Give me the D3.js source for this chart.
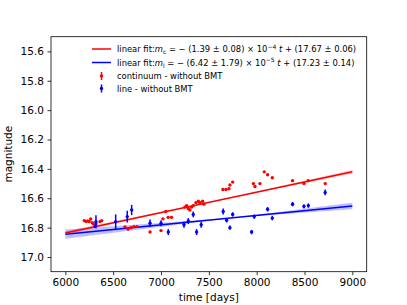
<!DOCTYPE html>
<html>
<head>
<meta charset="utf-8">
<script src="https://cdn.jsdelivr.net/npm/d3@7"></script>
<style>
  body { margin: 0; background: #fff; }
  text { font-family: "DejaVu Sans", sans-serif; fill: #000; }
</style>
</head>
<body>
<div id="chart"></div>
<script>
// continuum - without BMT: [time, magnitude, error]
var contData = [
  [6198, 16.752, 0.006], [6216, 16.759, 0.006], [6233, 16.754, 0.006], [6250, 16.759, 0.006],
  [6265, 16.741, 0.006], [6282, 16.766, 0.006], [6292, 16.773, 0.006], [6320, 16.775, 0.006],
  [6362, 16.759, 0.006], [6380, 16.752, 0.006],
  [6623, 16.795, 0.006], [6655, 16.81, 0.006], [6686, 16.80, 0.006], [6717, 16.793, 0.006], [6749, 16.793, 0.006],
  [6885, 16.83, 0.006], [7000, 16.82, 0.006],
  [7020, 16.74, 0.006], [7050, 16.69, 0.006], [7075, 16.73, 0.006], [7110, 16.73, 0.006],
  [7250, 16.66, 0.006], [7268, 16.65, 0.006], [7285, 16.67, 0.006], [7302, 16.68, 0.006],
  [7320, 16.66, 0.006], [7337, 16.65, 0.006], [7365, 16.63, 0.006], [7390, 16.62, 0.006],
  [7407, 16.63, 0.006], [7435, 16.62, 0.006], [7449, 16.64, 0.006],
  [7647, 16.54, 0.006], [7679, 16.54, 0.006], [7710, 16.535, 0.006], [7720, 16.51, 0.006], [7749, 16.49, 0.006],
  [7966, 16.50, 0.006], [7982, 16.52, 0.006], [8034, 16.50, 0.006],
  [8079, 16.42, 0.006], [8114, 16.44, 0.006], [8163, 16.46, 0.006],
  [8375, 16.48, 0.006], [8494, 16.50, 0.006], [8539, 16.48, 0.006], [8717, 16.50, 0.006]
];

// line - without BMT: [time, magnitude, error]
var lineData = [
  [6310, 16.79, 0.012], [6320, 16.76, 0.045], [6526, 16.76, 0.05], [6647, 16.725, 0.04],
  [6693, 16.68, 0.035], [6885, 16.77, 0.025], [7000, 16.77, 0.02], [7076, 16.83, 0.02],
  [7240, 16.78, 0.02], [7285, 16.755, 0.02], [7337, 16.71, 0.02], [7372, 16.83, 0.02],
  [7420, 16.78, 0.02], [7650, 16.69, 0.02], [7686, 16.75, 0.015], [7720, 16.80, 0.015],
  [7749, 16.71, 0.015], [7947, 16.83, 0.015], [7975, 16.725, 0.015], [8114, 16.675, 0.015],
  [8163, 16.735, 0.015], [8375, 16.64, 0.015], [8494, 16.655, 0.015], [8540, 16.65, 0.015],
  [8716, 16.56, 0.02]
];

// linear fits: slope, slope error, intercept, pivot time of the band
var contFit = {slope: -1.39e-4, slopeErr: 0.08e-4, intercept: 17.67, pivot: 7500};
var lineFit = {slope: -6.42e-5, slopeErr: 1.79e-5, intercept: 17.23, pivot: 7750};
var fitRange = [6000, 9000];

var xTicks = [6000, 6500, 7000, 7500, 8000, 8500, 9000];
var yTicks = [15.6, 15.8, 16.0, 16.2, 16.4, 16.6, 16.8, 17.0];

var W = 407, H = 305;
var margin = {top: 36.7, right: 40.3, bottom: 33.3, left: 51},
    w = W - margin.left - margin.right,
    h = H - margin.top - margin.bottom;

var x = d3.scaleLinear().domain([5850, 9150]).range([0, w]);
var y = d3.scaleLinear().domain([15.5, 17.1]).range([0, h]);

var svg = d3.select("#chart").append("svg")
    .attr("width", W)
    .attr("height", H);

var g = svg.append("g")
    .attr("transform", "translate(" + margin.left + "," + margin.top + ")");

function fitY(f, t) { return f.intercept + f.slope * t; }

function drawFit(f, color, bandColor) {
    var ts = d3.range(fitRange[0], fitRange[1] + 1, 50);
    var band = d3.area()
        .x(function(t) { return x(t); })
        .y0(function(t) { return y(fitY(f, t) - f.slopeErr * Math.abs(t - f.pivot)); })
        .y1(function(t) { return y(fitY(f, t) + f.slopeErr * Math.abs(t - f.pivot)); });
    g.append("path")
        .datum(ts)
        .attr("d", band)
        .attr("fill", bandColor)
        .attr("fill-opacity", 0.25);
    g.append("line")
        .attr("x1", x(fitRange[0])).attr("y1", y(fitY(f, fitRange[0])))
        .attr("x2", x(fitRange[1])).attr("y2", y(fitY(f, fitRange[1])))
        .attr("stroke", color)
        .attr("stroke-width", 1.5);
}

function drawPoints(data, color) {
    var pts = g.append("g").selectAll("g").data(data).enter().append("g");
    pts.append("line")
        .attr("x1", function(d) { return x(d[0]); })
        .attr("x2", function(d) { return x(d[0]); })
        .attr("y1", function(d) { return y(d[1] - d[2]); })
        .attr("y2", function(d) { return y(d[1] + d[2]); })
        .attr("stroke", color)
        .attr("stroke-width", 1.5);
    pts.append("circle")
        .attr("cx", function(d) { return x(d[0]); })
        .attr("cy", function(d) { return y(d[1]); })
        .attr("r", 1.7)
        .attr("fill", color);
}

drawFit(lineFit, "#0000ff", "#0000ff");
drawFit(contFit, "#ff0000", "#ff0000");
drawPoints(contData, "#ff0000");
drawPoints(lineData, "#0000ff");

// axes
var xAxis = d3.axisBottom(x).tickValues(xTicks).tickSize(3.5).tickPadding(3.5)
    .tickFormat(d3.format("d"));
var yAxis = d3.axisLeft(y).tickValues(yTicks).tickSize(3.5).tickPadding(3.5)
    .tickFormat(d3.format(".1f"));

var gx = g.append("g").attr("transform", "translate(0," + h + ")").call(xAxis);
var gy = g.append("g").call(yAxis);
[gx, gy].forEach(function(a) {
    a.select(".domain").remove();
    a.selectAll("text").style("font-size", "10.5px").attr("font-family", "DejaVu Sans");
    a.selectAll("line").attr("stroke-width", 0.8);
});

g.append("rect")
    .attr("width", w).attr("height", h)
    .attr("fill", "none").attr("stroke", "#000").attr("stroke-width", 0.8);

svg.append("text")
    .attr("x", margin.left + w / 2)
    .attr("y", 301)
    .attr("text-anchor", "middle")
    .style("font-size", "10.5px")
    .text("time [days]");

svg.append("text")
    .attr("transform", "translate(12," + (margin.top + h / 2) + ") rotate(-90)")
    .attr("text-anchor", "middle")
    .style("font-size", "10.5px")
    .text("magnitude");

// legend
var leg = svg.append("g").attr("transform", "translate(92,49)");
var fs = "8.4px";

function fitLabel(row, sub, a, ae, expo, b, be) {
    var t = row.append("text").attr("x", 25).attr("y", 3).style("font-size", fs);
    t.append("tspan").text("linear fit:");
    t.append("tspan").attr("font-style", "italic").text("m");
    t.append("tspan").attr("font-size", "6px").attr("dy", 2).text(sub);
    t.append("tspan").attr("dy", -2).text(" = − (" + a + " ± " + ae + ") × 10");
    t.append("tspan").attr("font-size", "6px").attr("dy", -3.5).text("−" + expo);
    t.append("tspan").attr("dy", 3.5).attr("font-style", "italic").text(" t");
    t.append("tspan").text(" + (" + b + " ± " + be + ")");
}

var r1 = leg.append("g");
r1.append("line").attr("x1", 0).attr("x2", 19).attr("stroke", "#ff0000").attr("stroke-width", 1.5);
fitLabel(r1, "c", "1.39", "0.08", "4", "17.67", "0.06");

var r2 = leg.append("g").attr("transform", "translate(0,13.5)");
r2.append("line").attr("x1", 0).attr("x2", 19).attr("stroke", "#0000ff").attr("stroke-width", 1.5);
fitLabel(r2, "l", "6.42", "1.79", "5", "17.23", "0.14");

var legPts = [["continuum - without BMT", "#ff0000"], ["line - without BMT", "#0000ff"]];
legPts.forEach(function(p, i) {
    var r = leg.append("g").attr("transform", "translate(0," + (27 + i * 12.5) + ")");
    r.append("line").attr("x1", 9.5).attr("x2", 9.5).attr("y1", -4).attr("y2", 4)
        .attr("stroke", p[1]).attr("stroke-width", 1.5);
    r.append("circle").attr("cx", 9.5).attr("cy", 0).attr("r", 1.7).attr("fill", p[1]);
    r.append("text").attr("x", 25).attr("y", 3).style("font-size", fs).text(p[0]);
});
</script>
</body>
</html>
